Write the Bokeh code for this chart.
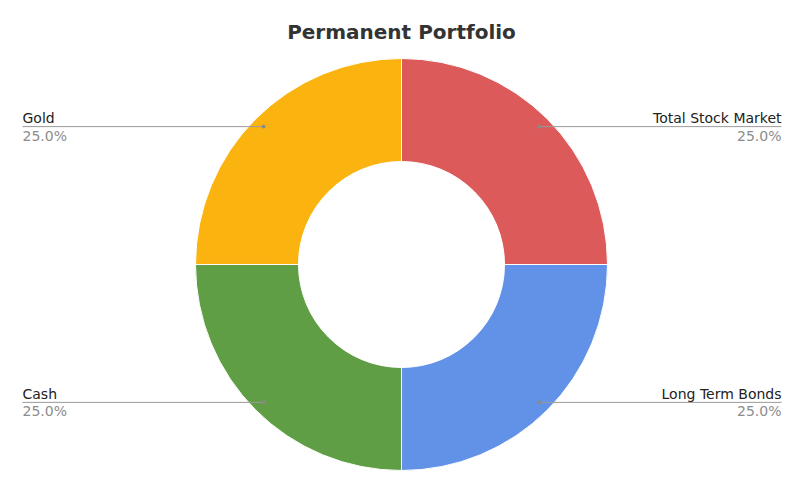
import math
from bokeh.plotting import figure
from bokeh.models import ColumnDataSource, Range1d
from bokeh.core.properties import value
from bokeh.embed import file_html
from bokeh.resources import INLINE

title = "Permanent Portfolio"
labels = ["Total Stock Market", "Long Term Bonds", "Cash", "Gold"]
shares = [25.0, 25.0, 25.0, 25.0]
colors = ["#DC5B5A", "#6292E8", "#5F9E45", "#FBB30F"]

FONT = "DejaVu Sans"

# page coordinates: x = pixel x, y = 494 - pixel y
p = figure(
    width=784, height=478,
    x_range=Range1d(0, 784), y_range=Range1d(16, 494),
    tools="", toolbar_location=None, output_backend="svg",
    min_border=0,
)
p.axis.visible = False
p.grid.visible = False
p.outline_line_color = None

cx, cy = 401, 494 - 264
r_out, r_in = 206, 103

total = sum(shares)
starts, ends, mids = [], [], []
acc = 0.0
for s in shares:
    a0 = math.pi / 2 - 2 * math.pi * acc / total
    acc += s
    a1 = math.pi / 2 - 2 * math.pi * acc / total
    starts.append(a0)
    ends.append(a1)
    mids.append((a0 + a1) / 2)

src = ColumnDataSource(data=dict(start=starts, end=ends, color=colors))
p.annular_wedge(x=cx, y=cy, inner_radius=r_in, outer_radius=r_out,
                start_angle="start", end_angle="end", direction="clock",
                fill_color="color", line_color="white", line_width=1, source=src)

# leader lines and labels
r_lab = 195
lx0, lx1, ly, tx, align = [], [], [], [], []
for m in mids:
    px = cx + r_lab * math.cos(m)
    py = cy + r_lab * math.sin(m)
    right = math.cos(m) > 0
    lx0.append(px)
    lx1.append(781 if right else 22)
    ly.append(py)
    tx.append(781 if right else 22)
    align.append("right" if right else "left")

for x0, x1, y in zip(lx0, lx1, ly):
    p.line([x0, x1], [y, y], line_color="#9a9a9a", line_width=1)
p.scatter(lx0, ly, size=3, color="#8a8a8a")

pct = ["%.1f%%" % (100 * s / total) for s in shares]
lab_src = ColumnDataSource(data=dict(
    x=tx, y_top=[y + 0.5 for y in ly], y_bot=[y - 1 for y in ly],
    name=labels, pct=pct, align=align))
p.text(x="x", y="y_top", text="name", text_align="align", text_baseline="bottom",
       text_font=value(FONT), text_font_size="14px", text_color="#222222", source=lab_src)
p.text(x="x", y="y_bot", text="pct", text_align="align", text_baseline="top",
       text_font=value(FONT), text_font_size="14px", text_color="#8c8c8c", source=lab_src)

p.text(x=[401], y=[494 - 31], text=[title], text_align="center", text_baseline="middle",
       text_font=value(FONT), text_font_size="20px", text_font_style="bold",
       text_color="#333333")

open("out.html", "w").write(file_html(p, INLINE))
